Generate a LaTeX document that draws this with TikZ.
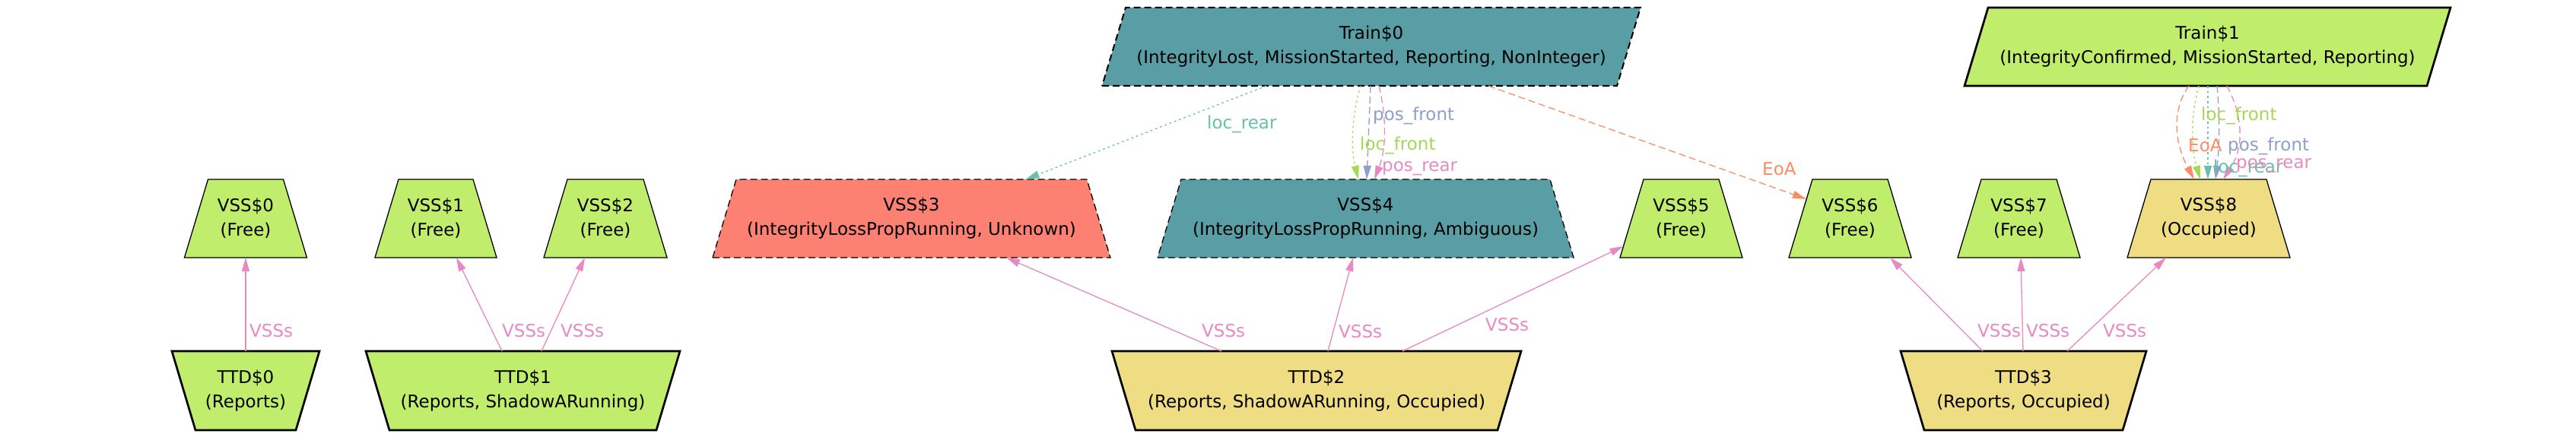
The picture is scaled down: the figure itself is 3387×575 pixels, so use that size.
\documentclass[tikz,border=0pt]{standalone}
\usepackage{fontspec}
\setmainfont{DejaVu Sans}
\usetikzlibrary{arrows.meta,calc}
\pgfdeclarelayer{bg}
\pgfsetlayers{bg,main}
\definecolor{cgreen}{HTML}{C0EE6C}
\definecolor{cyellow}{HTML}{EEDD82}
\definecolor{cteal}{HTML}{5A9EA5}
\definecolor{csalmon}{HTML}{FC8172}
\definecolor{eteal}{HTML}{66C2A5}
\definecolor{eorange}{HTML}{FC8D62}
\definecolor{eblue}{HTML}{8DA0CB}
\definecolor{epink}{HTML}{E78AC3}
\definecolor{egreen}{HTML}{A6D854}
\newcommand\vsstrap[2]{\path[#2] (#1.south west) -- (#1.south east) -- ([xshift=-31pt]#1.north east) -- ([xshift=31pt]#1.north west) -- cycle;}
\newcommand\ttdtrap[2]{\path[#2] (#1.north west) -- (#1.north east) -- ([xshift=-31pt]#1.south east) -- ([xshift=31pt]#1.south west) -- cycle;}
\newcommand\trainpar[2]{\path[#2] (#1.south west) -- ([xshift=-31pt]#1.south east) -- (#1.north east) -- ([xshift=31pt]#1.north west) -- cycle;}
\begin{document}
\begin{tikzpicture}[x=1pt,y=-1pt,
  box/.style={draw=none, inner sep=0pt, outer sep=0pt, align=center,
    font=\fontsize{23}{32}\selectfont, minimum height=103pt},
  thinb/.style={draw=black, line width=1.3pt},
  boldb/.style={draw=black, line width=2.7pt},
  dashb/.style={dash pattern=on 9pt off 5pt},
  conn/.style={line width=1.3pt, -{Triangle[length=18pt,width=10pt]}},
  vssedge/.style={conn, draw=epink},
  dashedge/.style={dash pattern=on 9pt off 5pt},
  dotedge/.style={dash pattern=on 2.7pt off 4pt},
  lbl/.style={inner sep=0pt, anchor=base west, font=\fontsize{23}{28}\selectfont},
]
\useasboundingbox (0,0) rectangle (3387,575);

% nodes
\node[box, minimum width=708pt] (train0) at (1803,61.5) {Train\$0\\(IntegrityLost, MissionStarted, Reporting, NonInteger)};
\node[box, minimum width=639pt] (train1) at (2902.5,61.5) {Train\$1\\(IntegrityConfirmed, MissionStarted, Reporting)};

\node[box, minimum width=161pt] (vss0) at (323,287.5) {VSS\$0\\(Free)};
\node[box, minimum width=160pt] (vss1) at (573,287.5) {VSS\$1\\(Free)};
\node[box, minimum width=162pt] (vss2) at (796,287.5) {VSS\$2\\(Free)};
\node[box, minimum width=523pt] (vss3) at (1198.5,287.5) {VSS\$3\\(IntegrityLossPropRunning, Unknown)};
\node[box, minimum width=547pt] (vss4) at (1795.5,287.5) {VSS\$4\\(IntegrityLossPropRunning, Ambiguous)};
\node[box, minimum width=161pt] (vss5) at (2210.5,287.5) {VSS\$5\\(Free)};
\node[box, minimum width=161pt] (vss6) at (2432.5,287.5) {VSS\$6\\(Free)};
\node[box, minimum width=161pt] (vss7) at (2654.5,287.5) {VSS\$7\\(Free)};
\node[box, minimum width=214pt] (vss8) at (2904,287.5) {VSS\$8\\(Occupied)};

\node[box, minimum width=194pt, minimum height=104pt] (ttd0) at (323,514) {TTD\$0\\(Reports)};
\node[box, minimum width=413pt, minimum height=104pt] (ttd1) at (687.5,514) {TTD\$1\\(Reports, ShadowARunning)};
\node[box, minimum width=538pt, minimum height=104pt] (ttd2) at (1731,514) {TTD\$2\\(Reports, ShadowARunning, Occupied)};
\node[box, minimum width=323pt, minimum height=104pt] (ttd3) at (2660.5,514) {TTD\$3\\(Reports, Occupied)};

% shapes
\begin{pgfonlayer}{bg}
\fill[white] (0,0) rectangle (3387,575);
\trainpar{train0}{fill=cteal, draw=black, line width=2pt, dashb}
\trainpar{train1}{fill=cgreen, boldb}
\vsstrap{vss0}{fill=cgreen, thinb}
\vsstrap{vss1}{fill=cgreen, thinb}
\vsstrap{vss2}{fill=cgreen, thinb}
\vsstrap{vss3}{fill=csalmon, thinb, dashb}
\vsstrap{vss4}{fill=cteal, thinb, dashb}
\vsstrap{vss5}{fill=cgreen, thinb}
\vsstrap{vss6}{fill=cgreen, thinb}
\vsstrap{vss7}{fill=cgreen, thinb}
\vsstrap{vss8}{fill=cyellow, thinb}
\ttdtrap{ttd0}{fill=cgreen, boldb}
\ttdtrap{ttd1}{fill=cgreen, boldb}
\ttdtrap{ttd2}{fill=cyellow, boldb}
\ttdtrap{ttd3}{fill=cyellow, boldb}
\end{pgfonlayer}

% VSSs edges
\draw[vssedge] (ttd0.north) -- (vss0.south);
\draw[vssedge] ([xshift=-27.5pt]ttd1.north) -- ([xshift=27pt]vss1.south);
\draw[vssedge] ([xshift=24.5pt]ttd1.north) -- ([xshift=-27pt]vss2.south);
\draw[vssedge] ([xshift=-125pt]ttd2.north) -- ([xshift=124.5pt]vss3.south);
\draw[vssedge] ([xshift=15pt]ttd2.north) -- ([xshift=-16.5pt]vss4.south);
\draw[vssedge] ([xshift=113pt]ttd2.north) -- ($(vss5.center)+(-76,36.5)$);
\draw[vssedge] ([xshift=-53.5pt]ttd3.north) -- ([xshift=52.5pt]vss6.south);
\draw[vssedge] ([xshift=-0.5pt]ttd3.north) -- ([xshift=2.5pt]vss7.south);
\draw[vssedge] ([xshift=57.5pt]ttd3.north) -- ([xshift=-56pt]vss8.south);

\node[lbl, text=epink] (l0) at (328,443) {VSSs};
\node[lbl, text=epink] (l1) at (660,443) {VSSs};
\node[lbl, text=epink] (l2) at (737,443) {VSSs};
\node[lbl, text=epink] (l3) at (1580,443) {VSSs};
\node[lbl, text=epink] (l4) at (1760,444) {VSSs};
\node[lbl, text=epink] (l5) at (1953,435) {VSSs};
\node[lbl, text=epink] (l6) at (2600,443) {VSSs};
\node[lbl, text=epink] (l7) at (2664,443) {VSSs};
\node[lbl, text=epink] (l8) at (2765,443) {VSSs};

% Train0 edges
\draw[conn, eteal, dotedge] ([xshift=-138pt]train0.south) -- ([xshift=150pt]vss3.north);
\draw[conn, egreen, dotedge] ([xshift=-14pt]train0.south) .. controls +(-12,41) and +(-10,-41) .. ([xshift=-9.5pt]vss4.north);
\draw[conn, eblue, dashedge] ([xshift=-1pt]train0.south) -- ([xshift=1.5pt]vss4.north);
\draw[conn, epink, dashedge] ([xshift=10pt]train0.south) .. controls +(10,41) and +(16,-41) .. ([xshift=11.5pt]vss4.north);
\draw[conn, eorange, dashedge] ([xshift=154pt]train0.south) -- ($(vss6.center)+(-57.5,-25.5)$);

\node[lbl, text=eteal] (t0a) at (1587,169) {loc\_rear};
\node[lbl, text=eblue] (t0b) at (1805,159) {pos\_front};
\node[lbl, text=egreen] (t0c) at (1788,197) {loc\_front};
\node[lbl, text=epink] (t0d) at (1817,225) {pos\_rear};
\node[lbl, text=eorange] (t0e) at (2317,230) {EoA};

% Train1 edges
\draw[conn, eorange, dashedge] ([xshift=-24.5pt]train1.south) .. controls +(-22,30) and +(-27,-50) .. ([xshift=-19pt]vss8.north);
\draw[conn, egreen, dotedge] ([xshift=-11.5pt]train1.south) .. controls +(-11,41) and +(-12,-41) .. ([xshift=-11pt]vss8.north);
\draw[conn, eteal, dotedge] ([xshift=0.5pt]train1.south) -- ([xshift=-1pt]vss8.north);
\draw[conn, eblue, dashedge] ([xshift=12.5pt]train1.south) .. controls +(4,41) and +(5,-41) .. ([xshift=9pt]vss8.north);
\draw[conn, epink, dashedge] ([xshift=25.5pt]train1.south) .. controls +(22,41) and +(27,-41) .. ([xshift=19pt]vss8.north);

\node[lbl, text=egreen] (t1a) at (2894,159) {loc\_front};
\node[lbl, text=eorange] (t1b) at (2877,199) {EoA};
\node[lbl, text=eblue] (t1c) at (2929,198) {pos\_front};
\node[lbl, text=eteal] (t1e) at (2910,227) {loc\_rear};
\node[lbl, text=epink] (t1d) at (2940,221) {pos\_rear};
\end{tikzpicture}
\end{document}
